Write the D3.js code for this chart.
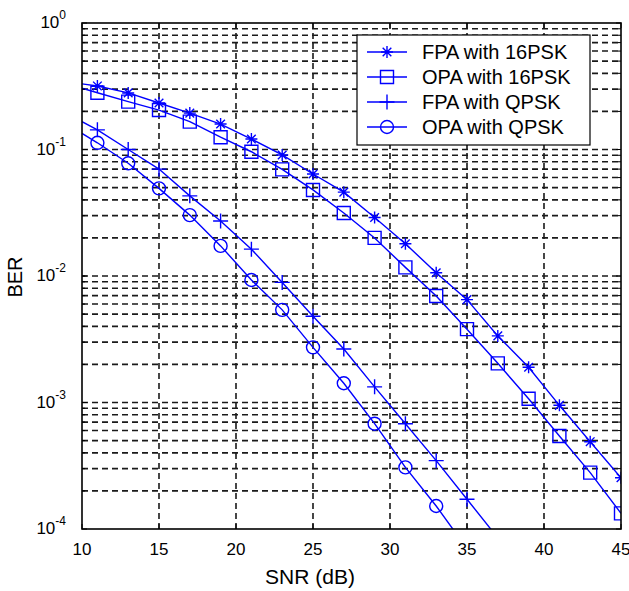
<!DOCTYPE html>
<html lang="en">
<head>
<meta charset="UTF-8">
<title>BER vs SNR</title>
<style>
  body { margin: 0; background: #fff; }
  svg text { font-family: "Liberation Sans", Arial, sans-serif; fill: #000; }
</style>
</head>
<body></body>
<script src="https://cdn.jsdelivr.net/npm/d3@7"></script>
<script>
    // data
    const snr = [10, 11, 13, 15, 17, 19, 21, 23, 25, 27, 29, 31, 33, 35, 37, 39, 41, 43, 45];
    const fpa16 = [0.33, 0.318, 0.28, 0.233, 0.194, 0.159, 0.121, 0.0905, 0.064, 0.046, 0.029, 0.018, 0.0106, 0.0065, 0.00336, 0.0019, 0.00095, 0.00049, 0.000254];
    const opa16 = [0.305, 0.281, 0.239, 0.205, 0.166, 0.125, 0.096, 0.0697, 0.0479, 0.0315, 0.02, 0.0117, 0.00695, 0.0038, 0.00204, 0.00107, 0.000543, 0.000279, 0.000133];
    const fpaQ = [0.166, 0.143, 0.1, 0.07, 0.043, 0.0272, 0.0163, 0.0089, 0.0048, 0.00265, 0.00133, 0.00068, 0.000347, 0.000172, 0.000085];
    const opaQ = [0.134, 0.113, 0.0778, 0.0493, 0.0303, 0.0173, 0.0093, 0.0054, 0.00273, 0.00142, 0.00068, 0.000307, 0.000152, 0.00007];
    const names = ["FPA with 16PSK", "OPA with 16PSK", "FPA with QPSK", "OPA with QPSK"];
    const markers = ["asterisk", "square", "plus", "circle"];
    const xTicks = [10, 15, 20, 25, 30, 35, 40, 45];
    const yExp = [0, -1, -2, -3, -4];

    const width = 629, height = 591;
    const mLeft = 82, mRight = 621, mTop = 23, mBottom = 529;
    const blue = "#0000ff";

    const svg = d3.select("body").append("svg")
        .attr("width", width)
        .attr("height", height);

    const x = d3.scaleLinear().domain([10, 45]).range([mLeft, mRight]);
    const y = d3.scaleLog().domain([1e-4, 1]).range([mBottom, mTop]);

    // background
    svg.append("rect").attr("x", mLeft).attr("y", mTop)
        .attr("width", mRight - mLeft).attr("height", mBottom - mTop)
        .attr("fill", "#fff");

    // grid (dashed, quite heavy like the original)
    const grid = svg.append("g").attr("stroke", "#1a1a1a").attr("stroke-width", 1.6)
        .attr("stroke-dasharray", "6,4");
    xTicks.slice(1, -1).forEach(t => {
        grid.append("line").attr("x1", x(t)).attr("x2", x(t))
            .attr("y1", mTop).attr("y2", mBottom);
    });
    const minor = [];
    for (let e = -4; e < 0; e++) {
        for (let m = 1; m < 10; m++) {
            if (e === -4 && m === 1) continue;
            minor.push(m * Math.pow(10, e));
        }
    }
    minor.forEach(v => {
        grid.append("line").attr("x1", mLeft).attr("x2", mRight)
            .attr("y1", y(v)).attr("y2", y(v));
    });

    // series
    svg.append("clipPath").attr("id", "clip")
        .append("rect").attr("x", mLeft).attr("y", mTop)
        .attr("width", mRight - mLeft).attr("height", mBottom - mTop);

    const series = [fpa16, opa16, fpaQ, opaQ];
    const line = d3.line().x(d => x(d[0])).y(d => y(d[1]));

    function markerPath(type, r) {
        const p = d3.path();
        if (type === "asterisk") {
            p.moveTo(-r, 0); p.lineTo(r, 0);
            p.moveTo(0, -r); p.lineTo(0, r);
            const d = r * 0.72;
            p.moveTo(-d, -d); p.lineTo(d, d);
            p.moveTo(-d, d); p.lineTo(d, -d);
        } else if (type === "square") {
            p.rect(-r, -r, 2 * r, 2 * r);
        } else if (type === "plus") {
            p.moveTo(-r, 0); p.lineTo(r, 0);
            p.moveTo(0, -r); p.lineTo(0, r);
        } else {
            p.arc(0, 0, r, 0, 2 * Math.PI);
        }
        return p.toString();
    }
    const sizes = { asterisk: 6, square: 6.5, plus: 7.5, circle: 6.5 };

    const plot = svg.append("g").attr("clip-path", "url(#clip)");
    series.forEach((vals, i) => {
        const pts = vals.map((v, j) => [snr[j], v]);
        plot.append("path").datum(pts)
            .attr("d", line)
            .attr("fill", "none")
            .attr("stroke", blue)
            .attr("stroke-width", 1.4);
        plot.selectAll(null)
            .data(pts.filter(d => d[0] % 2 === 1))
            .enter().append("path")
            .attr("transform", d => `translate(${x(d[0])},${y(d[1])})`)
            .attr("d", markerPath(markers[i], sizes[markers[i]]))
            .attr("fill", "none")
            .attr("stroke", blue)
            .attr("stroke-width", 1.4);
    });

    // box
    svg.append("rect").attr("x", mLeft).attr("y", mTop)
        .attr("width", mRight - mLeft).attr("height", mBottom - mTop)
        .attr("fill", "none").attr("stroke", "#000").attr("stroke-width", 1.6);

    // x ticks
    const ax = svg.append("g");
    xTicks.forEach(t => {
        ax.append("line").attr("x1", x(t)).attr("x2", x(t))
            .attr("y1", mBottom).attr("y2", mBottom - 5).attr("stroke", "#000");
        ax.append("line").attr("x1", x(t)).attr("x2", x(t))
            .attr("y1", mTop).attr("y2", mTop + 5).attr("stroke", "#000");
        ax.append("text").attr("x", x(t)).attr("y", 555)
            .attr("text-anchor", "middle").attr("font-size", 17)
            .text(t);
    });

    // y ticks
    yExp.forEach(e => {
        const yy = y(Math.pow(10, e));
        ax.append("line").attr("x1", mLeft).attr("x2", mLeft + 5)
            .attr("y1", yy).attr("y2", yy).attr("stroke", "#000");
        ax.append("line").attr("x1", mRight).attr("x2", mRight - 5)
            .attr("y1", yy).attr("y2", yy).attr("stroke", "#000");
        const t = ax.append("text").attr("x", 66).attr("y", yy + 5)
            .attr("text-anchor", "end").attr("font-size", 17);
        t.append("tspan").text("10");
        t.append("tspan").attr("dy", -9).attr("font-size", 12).text(e);
    });
    minor.forEach(v => {
        ax.append("line").attr("x1", mLeft).attr("x2", mLeft + 3)
            .attr("y1", y(v)).attr("y2", y(v)).attr("stroke", "#000");
        ax.append("line").attr("x1", mRight).attr("x2", mRight - 3)
            .attr("y1", y(v)).attr("y2", y(v)).attr("stroke", "#000");
    });

    // axis labels
    svg.append("text").attr("x", 310).attr("y", 584)
        .attr("text-anchor", "middle").attr("font-size", 21)
        .text("SNR (dB)");
    svg.append("text").attr("transform", "translate(22,277) rotate(-90)")
        .attr("text-anchor", "middle").attr("font-size", 20)
        .text("BER");

    // legend
    const lg = svg.append("g").attr("transform", "translate(357,35)");
    lg.append("rect").attr("width", 233).attr("height", 110)
        .attr("fill", "#fff").attr("stroke", "#000").attr("stroke-width", 1.2);
    names.forEach((n, i) => {
        const yy = 17 + i * 25;
        lg.append("line").attr("x1", 10).attr("x2", 50)
            .attr("y1", yy).attr("y2", yy)
            .attr("stroke", blue).attr("stroke-width", 1.4);
        lg.append("path").attr("transform", `translate(30,${yy})`)
            .attr("d", markerPath(markers[i], sizes[markers[i]]))
            .attr("fill", "none").attr("stroke", blue).attr("stroke-width", 1.4);
        lg.append("text").attr("x", 65).attr("y", yy + 7)
            .attr("font-size", 20).text(n);
    });
</script>
</html>
